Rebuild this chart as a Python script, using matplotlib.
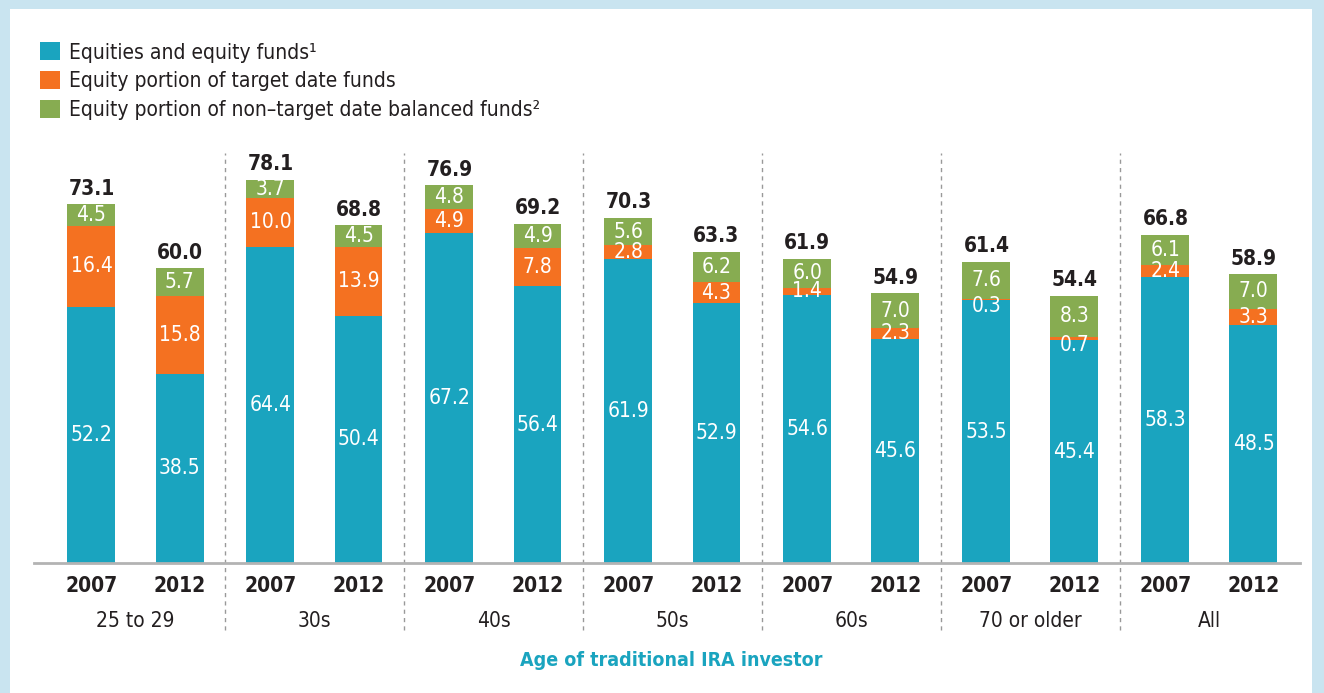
import numpy as np
import matplotlib.pyplot as plt
from matplotlib.patches import Rectangle
from matplotlib.transforms import blended_transform_factory

plt.rcParams['font.family'] = ['DejaVu Sans']
plt.rcParams['font.stretch'] = 'condensed'

groups = ['25 to 29', '30s', '40s', '50s', '60s', '70 or older', 'All']
years = ['2007', '2012']

equities_2007 = [52.2, 64.4, 67.2, 61.9, 54.6, 53.5, 58.3]
equities_2012 = [38.5, 50.4, 56.4, 52.9, 45.6, 45.4, 48.5]
target_2007 = [16.4, 10.0, 4.9, 2.8, 1.4, 0.3, 2.4]
target_2012 = [15.8, 13.9, 7.8, 4.3, 2.3, 0.7, 3.3]
balanced_2007 = [4.5, 3.7, 4.8, 5.6, 6.0, 7.6, 6.1]
balanced_2012 = [5.7, 4.5, 4.9, 6.2, 7.0, 8.3, 7.0]
totals_2007 = [73.1, 78.1, 76.9, 70.3, 61.9, 61.4, 66.8]
totals_2012 = [60.0, 68.8, 69.2, 63.3, 54.9, 54.4, 58.9]

labels = ['Equities and equity funds\u00b9',
          'Equity portion of target date funds',
          'Equity portion of non\u2013target date balanced funds\u00b2']

TEAL = '#1aa4bf'
ORANGE = '#f47121'
GREEN = '#87ac51'
FRAME = '#c9e4f0'
DARK = '#231f20'

W, H = 1324, 693
fig = plt.figure(figsize=(W / 100, H / 100), dpi=100)
fig.patch.set_facecolor(FRAME)
fig.add_artist(Rectangle((10 / W, 0), (1312 - 10) / W, (H - 9) / H,
                         transform=fig.transFigure, facecolor='white',
                         edgecolor='none', zorder=-10))

ax = fig.add_axes([34 / W, (H - 563) / H, (1300 - 34) / W, (563 - 153) / H])
ax.set_facecolor('none')

x = np.arange(len(groups))
off = 0.246
bw = 0.268

series = [
    (x - off, equities_2007, target_2007, balanced_2007, totals_2007),
    (x + off, equities_2012, target_2012, balanced_2012, totals_2012),
]

handles = None
for pos, eq, td, bal, tot in series:
    eq = np.array(eq)
    td = np.array(td)
    bal = np.array(bal)
    b1 = ax.bar(pos, eq, bw, color=TEAL, zorder=2)
    b2 = ax.bar(pos, td, bw, bottom=eq, color=ORANGE, zorder=2)
    b3 = ax.bar(pos, bal, bw, bottom=eq + td, color=GREEN, zorder=2)
    handles = [b1, b2, b3]

    # segment labels
    for bottoms, vals in [(np.zeros_like(eq), eq), (eq, td), (eq + td, bal)]:
        for px, b, v in zip(pos, bottoms, vals):
            y = b + v / 2
            if v < 1:
                y -= 1.3
            ax.text(px, y, f'{v:.1f}', ha='center', va='center',
                    color='white', fontsize=15, zorder=3)

    # totals
    for px, top, t in zip(pos, eq + td + bal, tot):
        ax.annotate(f'{t:.1f}', (px, top), xytext=(0, 4),
                    textcoords='offset points', ha='center', va='bottom',
                    color=DARK, fontsize=15, fontweight='bold')

ax.set_xlim(-0.567, 6.506)
ax.set_ylim(0, 83.5)

for sp in ['top', 'right', 'left']:
    ax.spines[sp].set_visible(False)
ax.spines['bottom'].set_color('#b3b3b3')
ax.spines['bottom'].set_linewidth(2)
ax.set_yticks([])

ticks = np.concatenate([x - off, x + off])
ax.set_xticks(ticks)
ax.set_xticklabels([years[0]] * len(x) + [years[1]] * len(x),
                   fontsize=15, fontweight='bold', color=DARK)
ax.tick_params(axis='x', length=0, pad=9)

# group dividers
for d in x[:-1] + 0.5:
    ax.axvline(d, ymin=-0.163, ymax=1, color='#999999', lw=1,
               ls=(0, (3, 3)), clip_on=False, zorder=1)

trans = blended_transform_factory(ax.transData, ax.transAxes)
for gx, g in zip(x, groups):
    ax.text(gx, -58 / 410, g, transform=trans, ha='center', va='center',
            fontsize=15, color=DARK)

fig.text(671 / W, 1 - 661 / H, 'Age of traditional IRA investor',
         ha='center', va='center', fontsize=14, fontweight='bold', color=TEAL)

fig.legend(handles, labels, loc='upper left',
           bbox_to_anchor=(30 / W, 1 - 32 / H), frameon=False,
           fontsize=15, handlelength=0.95, handleheight=0.95,
           handletextpad=0.4, labelspacing=0.42, borderpad=0,
           labelcolor=DARK)

plt.savefig('out.png', dpi=100, facecolor=FRAME)
plt.close()
